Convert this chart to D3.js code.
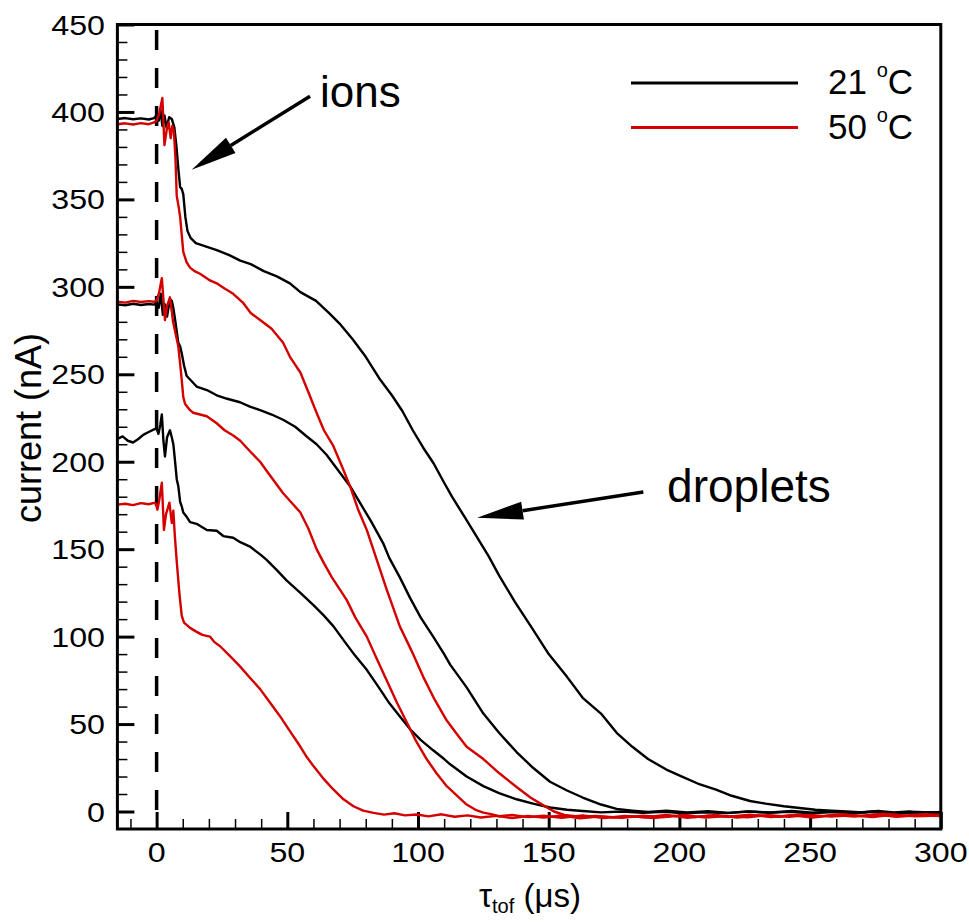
<!DOCTYPE html>
<html>
<head>
<meta charset="utf-8">
<script src="https://cdn.jsdelivr.net/npm/d3@7"></script>
<style>
body { margin: 0; background: #fff; }
text { font-family: "Liberation Sans", Arial, sans-serif; fill: #000; }
</style>
</head>
<body>
<div id="vis"></div>
<script>
const frame_width = 969;
const frame_height = 922;
const margins = {left: 117.4, right: 28.2, top: 24.5, bottom: 93};

// tick values
const x_ticks = [0, 50, 100, 150, 200, 250, 300];
const y_ticks = [0, 50, 100, 150, 200, 250, 300, 350, 400, 450];

// series: [tau_tof (us), current (nA)]
const black_top = [[-15,396],[-12,396.5],[-9,395.8],[-6,396.3],[-3,395.7],[-1,396.5],[0,398],[0.8,395],[1.5,401],[2.2,392],[3,398],[3.8,391],[4.8,397],[5.8,396],[6.8,391],[7.6,380],[8.4,366],[9,357],[9.6,356],[10.2,353],[11,340],[11.8,332],[13,328],[15,325],[19,323],[23,321],[28,318],[32,315],[36,313],[41,309],[46,306],[51,302],[55,297],[61,292],[66,285],[70,279],[75,270],[80,260],[85.5,247],[90,238],[94,229],[98,218],[102,208],[106,199],[110,188],[113,180],[118,168],[122.5,157],[127,146],[131,135],[137,120],[144,104],[150,90],[157,77],[163,65],[170,56],[176,45],[182,37],[188,30],[195,24],[201,20],[207,16],[214,12.5],[220,9],[227,6],[233,4.5],[240,3],[246,2],[252,1],[258,0.5],[264,0],[270,-0.5],[276,0.3],[282,-0.6],[288,0],[294,-0.8],[300,-0.3]];

const red_top = [[-15,393],[-12,393.5],[-9,392.8],[-6,393.6],[-3,393],[-1,394],[0,395],[1,399],[2.2,408],[3,381],[4,391],[4.6,394],[5.4,385],[6,392],[6.6,389],[7.2,374],[7.7,352],[8.4,346],[9,340],[9.6,330],[10.2,320],[11.5,314],[12.8,311],[14.5,309],[16.6,307.5],[20,304],[23,302],[26,299],[29.3,296],[33,291],[36,285],[39.6,281],[44,276],[48.4,268],[51,260],[55,251],[58,240],[61.2,228],[64,218],[67.6,209],[71,197],[74,186],[77,173],[80.4,161],[84.2,144],[88,127],[93,106],[97.5,92],[102,77],[106,65],[111,52],[115,44],[118.6,37],[125,30],[131,22],[137.7,14],[143,8],[148,3.5],[152,0],[156,-2],[162,-3],[168,-2.5],[175,-3.5],[182,-2.8],[190,-3.8],[198,-2.5],[206,-3.2],[214,-2],[222,-3.5],[230,-2.2],[238,-3],[246,-1.8],[254,-2.8],[262,-1.5],[270,-2.6],[278,-1.2],[286,-2.4],[294,-1.5],[300,-2]];

const black_mid = [[-15,290],[-12,289.5],[-9,290.3],[-6,289.6],[-3,290.2],[-1,289.8],[0,291],[0.8,288],[1.6,296],[2.4,284],[3.2,290],[4,283],[5.1,293],[5.8,292],[6.5,287],[7.2,280],[8.3,268],[9,266],[9.6,262],[10.5,255],[11.5,249],[12.8,247],[15.3,243],[19.2,241],[23,238],[27,236],[31.9,234],[35.7,231.5],[39.6,229.5],[44,227],[48.4,224],[53,220],[57,215],[61.2,210],[65,204],[69,196],[74,186],[78,176],[82,166],[86.8,153],[89,145],[93,134],[97,122],[101,111],[105.8,100],[110,90],[112.3,84],[118.6,71],[125,56],[131,45],[137.7,34],[144,25],[150.5,17],[157,12],[163,8],[170,4],[176,1.5],[182,0.5],[188,-0.3],[195,0.4],[203,-0.5],[211,0.2],[219,-0.8],[227,0],[235,-0.6],[243,0.3],[251,-0.7],[259,0],[267,-0.9],[275,-0.2],[283,-1],[291,-0.3],[300,-0.8]];

const red_mid = [[-15,291.5],[-12,291],[-9,292],[-6,291.3],[-3,291.8],[-1,291.5],[0,292],[1,297],[2,305],[3.2,281],[4,289],[5.1,294],[5.8,286],[6.3,280],[7,275],[8.3,266],[9,256],[9.6,247],[10.2,237],[10.9,233],[12.8,229.5],[14,228],[19.2,226],[23,222],[26,218],[29.3,215],[32,212],[35.7,206],[39.6,200],[42,195],[48.4,182],[55,171],[58,162],[61.2,150],[64,142],[67,134],[72.7,121],[76,111],[80.4,100],[84,88],[88,75],[92,62],[95.7,51],[99,41],[103.3,30],[107,22],[111,14.5],[115,9],[118.6,4],[122,1],[125,-0.6],[128,-1.5],[131,-2.7],[136,-2],[142,-3.2],[148,-2.4],[155,-3.6],[163,-2.2],[171,-3.8],[179,-2.5],[187,-3.3],[195,-1.9],[203,-3.6],[211,-2.4],[219,-3],[227,-1.8],[235,-3.2],[243,-2.1],[251,-3.4],[259,-2],[267,-2.9],[275,-1.7],[283,-3],[291,-2.2],[300,-2.6]];

const black_low = [[-15,213],[-13,214.5],[-11,212],[-9,211],[-7,213],[-5,215.5],[-3,217],[-1,218.5],[0,219],[0.7,216],[1.4,221],[2,227],[2.6,212],[3.2,203],[4,214],[5.1,218],[5.8,214],[6.4,210],[7,201],[7.7,190],[8.3,186],[9,177],[9.6,174.5],[10.2,171],[11.5,168.5],[12.8,165.5],[15.3,164.5],[19.2,161],[23,160.5],[25.5,157.5],[29.3,156.5],[32,154],[35.7,151.5],[39.6,147],[42,144],[46,138],[49.8,132],[55,125],[60,118],[64,112],[67.6,106],[72,97],[76,89],[80.4,81],[85,71],[89,62],[93,54.5],[97,47],[101,41],[105.8,35],[110,30],[112.3,27],[118.6,20],[125,14.5],[131,10.5],[137.7,7],[144,4.5],[150.5,2.3],[157,1],[163,0.3],[170,-0.5],[178,0],[186,-0.8],[194,-0.2],[202,-1],[210,-0.4],[218,-0.9],[226,0.1],[234,-0.7],[242,-0.2],[250,-1],[258,-0.3],[266,-0.8],[274,0],[282,-0.9],[290,-0.4],[300,-0.7]];

const red_low = [[-15,175.5],[-12,176],[-9,175.2],[-6,176.3],[-3,175.7],[-1,176.5],[-0.3,176],[0.3,172.6],[1,178],[2,188],[2.8,161],[3.6,170],[4.9,176.6],[5.8,165],[6.4,172],[7,157],[7.7,143],[8.7,125],[9.6,112],[10.5,108],[12.8,105],[15,103],[17.5,101],[20.4,100],[22,97],[24.3,94.5],[28,89],[31.9,83],[35.7,76.5],[39.6,70],[43.5,62],[47.2,54.5],[51,46],[54.9,37.3],[57.5,31],[60,26],[64,18.5],[67.6,12.6],[71.5,7],[75.3,3],[79,0.5],[83,-0.8],[87,-1.8],[91,-1],[95,-2.2],[99.5,-1.7],[104,-2.8],[109,-1.6],[114,-3],[119,-2.2],[124,-3.4],[130,-2.5],[136,-3.8],[142,-2.6],[148,-3.5],[155,-2.3],[162,-3.9],[170,-2.8],[178,-3.6],[186,-2.4],[194,-3.2],[202,-2],[210,-3.5],[218,-2.6],[226,-3.3],[234,-2.1],[242,-3],[250,-1.9],[258,-2.9],[266,-2.2],[274,-3.1],[282,-1.8],[290,-2.7],[300,-2.3]];

const legend_labels = ["21", "50"];
const legend_colors = ["#000000", "#d40000"];

// annotations in data coords: [tail, tip], text anchor
const ions_arrow = [[58.7, 409], [13.4, 367]];
const droplets_arrow = [[186.2, 182.7], [122.6, 168]];
const ions_pos = [62.5, 403];
const droplets_pos = [195.3, 177];

const x_scale = d3.scaleLinear()
    .domain([-15, 300])
    .range([margins.left, frame_width - margins.right]);
const y_scale = d3.scaleLinear()
    .domain([-10, 450])
    .range([frame_height - margins.bottom, margins.top]);

const svg = d3.select("#vis")
    .append("svg")
        .attr("width", frame_width)
        .attr("height", frame_height);

svg.append("clipPath")
    .attr("id", "plotclip")
    .append("rect")
        .attr("x", margins.left)
        .attr("y", margins.top)
        .attr("width", frame_width - margins.left - margins.right)
        .attr("height", frame_height - margins.top - margins.bottom);

const bottom_y = frame_height - margins.bottom;

// minor ticks every 10
const x_minor = d3.range(-10, 301, 10).filter(v => v % 50 !== 0);
const y_minor = d3.range(10, 450, 10).filter(v => v % 50 !== 0);

svg.append("g")
    .attr("transform", "translate(0," + bottom_y + ")")
    .call(d3.axisBottom(x_scale).tickValues(x_minor).tickSize(-10).tickSizeOuter(0).tickFormat(""))
    .call(g => g.select(".domain").remove())
    .selectAll("line").attr("stroke-width", 1.5);
svg.append("g")
    .attr("transform", "translate(0," + bottom_y + ")")
    .call(d3.axisBottom(x_scale).tickValues(x_ticks).tickSize(-17).tickSizeOuter(0).tickFormat(""))
    .call(g => g.select(".domain").remove())
    .selectAll("line").attr("stroke-width", 3);

svg.append("g")
    .attr("transform", "translate(" + margins.left + ",0)")
    .call(d3.axisLeft(y_scale).tickValues(y_minor).tickSize(-10).tickSizeOuter(0).tickFormat(""))
    .call(g => g.select(".domain").remove())
    .selectAll("line").attr("stroke-width", 1.5);
svg.append("g")
    .attr("transform", "translate(" + margins.left + ",0)")
    .call(d3.axisLeft(y_scale).tickValues(y_ticks).tickSize(-17).tickSizeOuter(0).tickFormat(""))
    .call(g => g.select(".domain").remove())
    .selectAll("line").attr("stroke-width", 3);

// tick labels (slightly wide, as in the original)
svg.selectAll(".ylab")
    .data(y_ticks)
    .enter()
    .append("text")
        .attr("class", "ylab")
        .attr("transform", d => "translate(105," + (y_scale(d) + 10) + ") scale(1.15,1)")
        .attr("text-anchor", "end")
        .attr("font-size", "28px")
        .text(d => d);

svg.selectAll(".xlab")
    .data(x_ticks)
    .enter()
    .append("text")
        .attr("class", "xlab")
        .attr("transform", d => "translate(" + x_scale(d) + ",862) scale(1.15,1)")
        .attr("text-anchor", "middle")
        .attr("font-size", "28px")
        .text(d => d);

// dashed line at t = 0
svg.append("line")
    .attr("x1", x_scale(0)).attr("x2", x_scale(0))
    .attr("y1", y_scale(450)).attr("y2", bottom_y)
    .attr("stroke", "#000")
    .attr("stroke-width", 3.5)
    .attr("stroke-dasharray", "20,18")
    .attr("stroke-dashoffset", 32.5);

const line = d3.line()
    .x(d => x_scale(d[0]))
    .y(d => y_scale(d[1]));

const plot = svg.append("g").attr("clip-path", "url(#plotclip)");
[black_top, black_mid, black_low].forEach(s => {
    plot.append("path")
        .attr("d", line(s))
        .attr("fill", "none")
        .attr("stroke", legend_colors[0])
        .attr("stroke-width", 2.4)
        .attr("stroke-linejoin", "round");
});
[red_top, red_mid, red_low].forEach(s => {
    plot.append("path")
        .attr("d", line(s))
        .attr("fill", "none")
        .attr("stroke", legend_colors[1])
        .attr("stroke-width", 2.4)
        .attr("stroke-linejoin", "round");
});

// frame
svg.append("rect")
    .attr("x", margins.left)
    .attr("y", margins.top)
    .attr("width", frame_width - margins.left - margins.right)
    .attr("height", frame_height - margins.top - margins.bottom)
    .attr("fill", "none")
    .attr("stroke", "#000")
    .attr("stroke-width", 3);

// axis titles
svg.append("text")
    .attr("transform", "translate(41,428) rotate(-90)")
    .attr("text-anchor", "middle")
    .attr("font-size", "36px")
    .text("current (nA)");

const xt = svg.append("text")
    .attr("x", 530)
    .attr("y", 907)
    .attr("text-anchor", "middle")
    .attr("font-size", "33px");
xt.append("tspan").text("\u03c4");
xt.append("tspan").attr("font-size", "20px").attr("dy", 6).text("tof");
xt.append("tspan").attr("dy", -6).text(" (\u03bcs)");

// arrows
function drawArrow(a) {
    const p0 = [x_scale(a[0][0]), y_scale(a[0][1])];
    const p1 = [x_scale(a[1][0]), y_scale(a[1][1])];
    const dx = p1[0] - p0[0], dy = p1[1] - p0[1];
    const len = Math.sqrt(dx * dx + dy * dy);
    const ux = dx / len, uy = dy / len;
    const head = 46, half = 9;
    const bx = p1[0] - ux * head, by = p1[1] - uy * head;
    svg.append("line")
        .attr("x1", p0[0]).attr("y1", p0[1])
        .attr("x2", bx).attr("y2", by)
        .attr("stroke", "#000")
        .attr("stroke-width", 3.5);
    svg.append("polygon")
        .attr("points", [
            [p1[0], p1[1]],
            [bx - uy * half, by + ux * half],
            [bx + uy * half, by - ux * half]
        ].map(p => p.join(",")).join(" "))
        .attr("fill", "#000");
}
drawArrow(ions_arrow);
drawArrow(droplets_arrow);

svg.append("text")
    .attr("x", x_scale(ions_pos[0]))
    .attr("y", y_scale(ions_pos[1]))
    .attr("font-size", "44px")
    .text("ions");
svg.append("text")
    .attr("x", x_scale(droplets_pos[0]))
    .attr("y", y_scale(droplets_pos[1]))
    .attr("font-size", "46px")
    .text("droplets");

// legend
const legend = svg.append("g");
legend_labels.forEach((lab, i) => {
    const ly = 83 + i * 44.5;
    legend.append("line")
        .attr("x1", 631).attr("x2", 798)
        .attr("y1", ly).attr("y2", ly)
        .attr("stroke", legend_colors[i])
        .attr("stroke-width", 3);
    const t = legend.append("text")
        .attr("x", 828)
        .attr("y", ly + 11)
        .attr("font-size", "35px");
    t.append("tspan").text(lab + " ");
    t.append("tspan").attr("font-size", "20px").attr("dy", -17).text("o");
    t.append("tspan").attr("dy", 17).text("C");
});
</script>
</body>
</html>
